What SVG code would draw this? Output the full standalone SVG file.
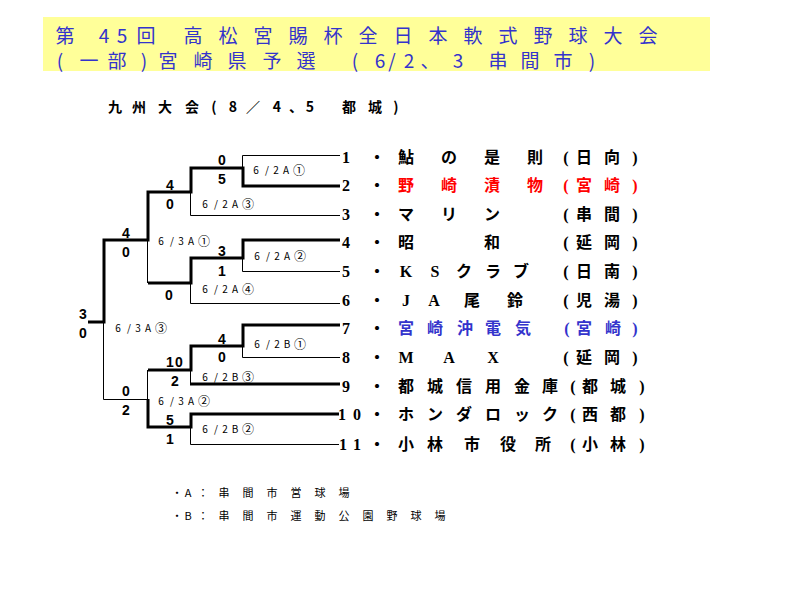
<svg xmlns="http://www.w3.org/2000/svg" width="800" height="600" viewBox="0 0 800 600">
<style>
text{dominant-baseline:central;text-anchor:middle}
.title{font-family:"Noto Sans CJK JP",sans-serif;font-size:19px;fill:#3333cc}
.sub{font-family:"Noto Sans CJK JP",sans-serif;font-size:14px;font-weight:bold;fill:#000}
.num{font-family:"Liberation Serif","Noto Sans CJK JP",serif;font-size:16px;font-weight:bold;fill:#000}
.name{font-family:"Liberation Serif","Noto Sans CJK JP",serif;font-size:16px;font-weight:bold;fill:#000}
.red{fill:#ff0000}
.blue{fill:#3333cc}
.score{font-family:"Liberation Sans",sans-serif;font-size:14px;font-weight:bold;fill:#000}
.lbl{font-family:"Noto Sans CJK JP",sans-serif;font-size:10px;fill:#000}
.circ{font-size:12px}
.foot{font-family:"Noto Sans CJK JP",sans-serif;font-size:11px;fill:#000}
.thin{fill:none;stroke:#000;stroke-width:1}
.thick{fill:none;stroke:#000;stroke-width:3;stroke-linejoin:miter}
</style>
<rect x="0" y="0" width="800" height="600" fill="#fff"/>
<g id="title">
<rect x="43" y="17" width="667" height="54" fill="#ffff99"/>
<text class="title" x="65 104 122 146 193 228 263 298 333 368 403 438 473 508 543 578 613 648" y="34">第45回高松宮賜杯全日本軟式野球大会</text>
<text class="title" x="60 89 117 144 168 203 237 272 306 355 380 392 409 430 458 498 530 563 592" y="59">(一部)宮崎県予選(6/2、3串間市)</text>
</g>
<g id="subtitle">
<text class="sub" x="115 139 165 192 214 233 253 277 296 310 349 375 396" y="106">九州大会(8／4、5都城)</text>
</g>
<g id="connectors">
<path class="thin" d="M340 155.5H242.5V168"/>
<path class="thin" d="M340 215.5H190.5V192"/>
<path class="thin" d="M340 271.5H242.5V258"/>
<path class="thin" d="M340 303.5H190.5V283"/>
<path class="thin" d="M147.5 240V283"/>
<path class="thin" d="M340 357.5H242.5V346"/>
<path class="thin" d="M190.5 370V384"/>
<path class="thin" d="M339 444.5H190.5V427"/>
<path class="thin" d="M147.5 370V399.5H103.5V322"/>
<path class="thick" d="M340 186H243V168H191V192H148V240H104V322H88"/>
<path class="thick" d="M340 240H243V258H191V283H148"/>
<path class="thick" d="M340 325H243V346H191V370H148"/>
<path class="thick" d="M190 384H340"/>
<path class="thick" d="M339 414H191V427H148V399"/>
</g>
<g id="match-a">
<text class="score" x="222" y="160">0</text>
<text class="score" x="222" y="179">5</text>
<text class="lbl" x="256 267 276 286" y="169">6/2A<tspan class="circ" x="299">①</tspan></text>
</g>
<g id="match-b">
<text class="score" x="170" y="185">4</text>
<text class="score" x="170" y="204">0</text>
<text class="lbl" x="205 216 225 235" y="203">6/2A<tspan class="circ" x="248">③</tspan></text>
</g>
<g id="match-c">
<text class="score" x="222" y="251">3</text>
<text class="score" x="222" y="271">1</text>
<text class="lbl" x="257 268 277 287" y="255">6/2A<tspan class="circ" x="300">②</tspan></text>
</g>
<g id="match-d">
<text class="score" x="169" y="295">0</text>
<text class="lbl" x="205 216 225 235" y="288">6/2A<tspan class="circ" x="248">④</tspan></text>
</g>
<g id="match-e">
<text class="score" x="126" y="233">4</text>
<text class="score" x="126" y="252">0</text>
<text class="lbl" x="161 172 181 191" y="240">6/3A<tspan class="circ" x="204">①</tspan></text>
</g>
<g id="match-final">
<text class="score" x="83" y="314">3</text>
<text class="score" x="83" y="333">0</text>
<text class="lbl" x="118 129 138 148" y="327">6/3A<tspan class="circ" x="161">③</tspan></text>
</g>
<g id="match-f">
<text class="score" x="222" y="339">4</text>
<text class="score" x="222" y="357">0</text>
<text class="lbl" x="257 268 277 287" y="343">6/2B<tspan class="circ" x="300">①</tspan></text>
</g>
<g id="match-g">
<text class="score" x="170 179" y="362">10</text>
<text class="score" x="175" y="381">2</text>
<text class="lbl" x="205 216 225 235" y="376">6/2B<tspan class="circ" x="248">③</tspan></text>
</g>
<g id="match-h">
<text class="score" x="170" y="420">5</text>
<text class="score" x="170" y="439">1</text>
<text class="lbl" x="205 216 225 235" y="428">6/2B<tspan class="circ" x="248">②</tspan></text>
</g>
<g id="match-i">
<text class="score" x="126" y="391">0</text>
<text class="score" x="126" y="410">2</text>
<text class="lbl" x="161 172 181 191" y="400">6/3A<tspan class="circ" x="204">②</tspan></text>
</g>
<g id="team-1">
<text class="num" x="346" y="157">1</text><text class="name" x="377" y="157">・</text>
<text class="name" x="406 449 492 535" y="157">鮎の是則</text>
<text class="name" x="566 584 612 635" y="157">(日向)</text>
</g>
<g id="team-2">
<text class="num" x="346" y="185">2</text><text class="name" x="377" y="185">・</text>
<text class="name red" x="406 449 492 535" y="185">野崎漬物</text>
<text class="name red" x="566 584 612 635" y="185">(宮崎)</text>
</g>
<g id="team-3">
<text class="num" x="346" y="214">3</text><text class="name" x="377" y="214">・</text>
<text class="name" x="406 449 492" y="214">マリン</text>
<text class="name" x="566 584 612 635" y="214">(串間)</text>
</g>
<g id="team-4">
<text class="num" x="346" y="242">4</text><text class="name" x="377" y="242">・</text>
<text class="name" x="406 492" y="242">昭和</text>
<text class="name" x="566 584 612 635" y="242">(延岡)</text>
</g>
<g id="team-5">
<text class="num" x="346" y="271">5</text><text class="name" x="377" y="271">・</text>
<text class="name" x="406 435 464 493 521" y="271">KSクラブ</text>
<text class="name" x="566 584 612 635" y="271">(日南)</text>
</g>
<g id="team-6">
<text class="num" x="346" y="300">6</text><text class="name" x="377" y="300">・</text>
<text class="name" x="406 434 472 515" y="300">JA尾鈴</text>
<text class="name" x="566 584 612 635" y="300">(児湯)</text>
</g>
<g id="team-7">
<text class="num" x="346" y="328">7</text><text class="name" x="377" y="328">・</text>
<text class="name blue" x="406 435 465 493 523" y="328">宮崎沖電気</text>
<text class="name blue" x="567 584 613 635" y="328">(宮崎)</text>
</g>
<g id="team-8">
<text class="num" x="346" y="357">8</text><text class="name" x="377" y="357">・</text>
<text class="name" x="406 449 493" y="357">MAX</text>
<text class="name" x="566 584 612 635" y="357">(延岡)</text>
</g>
<g id="team-9">
<text class="num" x="346" y="386">9</text><text class="name" x="377" y="386">・</text>
<text class="name" x="406 435 464 493 522 550" y="386">都城信用金庫</text>
<text class="name" x="573 590 618 642" y="386">(都城)</text>
</g>
<g id="team-10">
<text class="num" x="342 357" y="414">10</text><text class="name" x="377" y="414">・</text>
<text class="name" x="406 435 464 493 522 550" y="414">ホンダロック</text>
<text class="name" x="573 590 618 642" y="414">(西都)</text>
</g>
<g id="team-11">
<text class="num" x="343 357" y="444">11</text><text class="name" x="377" y="444">・</text>
<text class="name" x="406 435 472 508 543" y="444">小林市役所</text>
<text class="name" x="573 590 618 642" y="444">(小林)</text>
</g>
<g id="notes">
<text class="foot" x="177 188 203 224 248 272 296 320 344" y="492">・A：串間市営球場</text>
<text class="foot" x="177 188 203 224 248 272 296 320 344 368 392 416 440" y="515">・B：串間市運動公園野球場</text>
</g>
</svg>
